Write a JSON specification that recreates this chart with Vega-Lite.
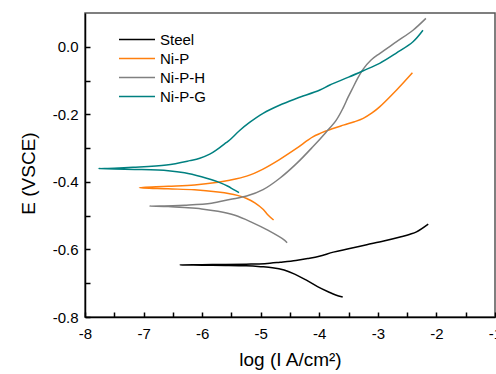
{
  "$schema": "https://vega.github.io/schema/vega-lite/v6.json",
  "width": 410,
  "height": 304,
  "autosize": {"type": "none"},
  "padding": {"left": 85, "top": 13, "right": 1, "bottom": 57},
  "background": "white",
  "config": {
    "view": {"stroke": "#555555", "strokeWidth": 1.5},
    "font": "Liberation Sans"
  },
  "data": {
    "values": [
      {"sample": "Steel", "logI": -3.60, "E": -0.741},
      {"sample": "Steel", "logI": -3.72, "E": -0.735},
      {"sample": "Steel", "logI": -3.84, "E": -0.726},
      {"sample": "Steel", "logI": -4.03, "E": -0.710},
      {"sample": "Steel", "logI": -4.22, "E": -0.691},
      {"sample": "Steel", "logI": -4.42, "E": -0.673},
      {"sample": "Steel", "logI": -4.60, "E": -0.661},
      {"sample": "Steel", "logI": -4.80, "E": -0.654},
      {"sample": "Steel", "logI": -5.00, "E": -0.651},
      {"sample": "Steel", "logI": -5.25, "E": -0.6485},
      {"sample": "Steel", "logI": -5.60, "E": -0.6472},
      {"sample": "Steel", "logI": -6.00, "E": -0.6465},
      {"sample": "Steel", "logI": -6.38, "E": -0.6458},
      {"sample": "Steel", "logI": -6.00, "E": -0.6452},
      {"sample": "Steel", "logI": -5.60, "E": -0.6445},
      {"sample": "Steel", "logI": -5.25, "E": -0.6435},
      {"sample": "Steel", "logI": -4.93, "E": -0.642},
      {"sample": "Steel", "logI": -4.67, "E": -0.638},
      {"sample": "Steel", "logI": -4.40, "E": -0.633},
      {"sample": "Steel", "logI": -4.20, "E": -0.627},
      {"sample": "Steel", "logI": -4.00, "E": -0.620},
      {"sample": "Steel", "logI": -3.76, "E": -0.608},
      {"sample": "Steel", "logI": -3.50, "E": -0.598},
      {"sample": "Steel", "logI": -3.19, "E": -0.586},
      {"sample": "Steel", "logI": -2.90, "E": -0.575},
      {"sample": "Steel", "logI": -2.62, "E": -0.563},
      {"sample": "Steel", "logI": -2.45, "E": -0.555},
      {"sample": "Steel", "logI": -2.34, "E": -0.548},
      {"sample": "Steel", "logI": -2.14, "E": -0.525},

      {"sample": "Ni-P", "logI": -4.78, "E": -0.513},
      {"sample": "Ni-P", "logI": -4.88, "E": -0.497},
      {"sample": "Ni-P", "logI": -4.96, "E": -0.481},
      {"sample": "Ni-P", "logI": -5.10, "E": -0.462},
      {"sample": "Ni-P", "logI": -5.24, "E": -0.449},
      {"sample": "Ni-P", "logI": -5.40, "E": -0.440},
      {"sample": "Ni-P", "logI": -5.53, "E": -0.435},
      {"sample": "Ni-P", "logI": -5.73, "E": -0.430},
      {"sample": "Ni-P", "logI": -6.13, "E": -0.4235},
      {"sample": "Ni-P", "logI": -6.58, "E": -0.4205},
      {"sample": "Ni-P", "logI": -7.07, "E": -0.417},
      {"sample": "Ni-P", "logI": -6.58, "E": -0.413},
      {"sample": "Ni-P", "logI": -6.13, "E": -0.409},
      {"sample": "Ni-P", "logI": -5.73, "E": -0.401},
      {"sample": "Ni-P", "logI": -5.53, "E": -0.395},
      {"sample": "Ni-P", "logI": -5.24, "E": -0.383},
      {"sample": "Ni-P", "logI": -4.96, "E": -0.362},
      {"sample": "Ni-P", "logI": -4.68, "E": -0.334},
      {"sample": "Ni-P", "logI": -4.39, "E": -0.301},
      {"sample": "Ni-P", "logI": -4.11, "E": -0.267},
      {"sample": "Ni-P", "logI": -3.88, "E": -0.249},
      {"sample": "Ni-P", "logI": -3.59, "E": -0.232},
      {"sample": "Ni-P", "logI": -3.40, "E": -0.222},
      {"sample": "Ni-P", "logI": -3.25, "E": -0.212},
      {"sample": "Ni-P", "logI": -3.10, "E": -0.196},
      {"sample": "Ni-P", "logI": -2.97, "E": -0.178},
      {"sample": "Ni-P", "logI": -2.68, "E": -0.128},
      {"sample": "Ni-P", "logI": -2.41, "E": -0.077},

      {"sample": "Ni-P-H", "logI": -4.55, "E": -0.580},
      {"sample": "Ni-P-H", "logI": -4.59, "E": -0.573},
      {"sample": "Ni-P-H", "logI": -4.88, "E": -0.543},
      {"sample": "Ni-P-H", "logI": -5.16, "E": -0.519},
      {"sample": "Ni-P-H", "logI": -5.44, "E": -0.499},
      {"sample": "Ni-P-H", "logI": -5.73, "E": -0.487},
      {"sample": "Ni-P-H", "logI": -6.01, "E": -0.480},
      {"sample": "Ni-P-H", "logI": -6.30, "E": -0.476},
      {"sample": "Ni-P-H", "logI": -6.58, "E": -0.473},
      {"sample": "Ni-P-H", "logI": -6.90, "E": -0.4715},
      {"sample": "Ni-P-H", "logI": -6.50, "E": -0.4705},
      {"sample": "Ni-P-H", "logI": -6.30, "E": -0.469},
      {"sample": "Ni-P-H", "logI": -5.84, "E": -0.463},
      {"sample": "Ni-P-H", "logI": -5.53, "E": -0.452},
      {"sample": "Ni-P-H", "logI": -5.24, "E": -0.442},
      {"sample": "Ni-P-H", "logI": -4.96, "E": -0.423},
      {"sample": "Ni-P-H", "logI": -4.68, "E": -0.390},
      {"sample": "Ni-P-H", "logI": -4.39, "E": -0.346},
      {"sample": "Ni-P-H", "logI": -4.11, "E": -0.296},
      {"sample": "Ni-P-H", "logI": -3.88, "E": -0.252},
      {"sample": "Ni-P-H", "logI": -3.71, "E": -0.217},
      {"sample": "Ni-P-H", "logI": -3.59, "E": -0.180},
      {"sample": "Ni-P-H", "logI": -3.51, "E": -0.150},
      {"sample": "Ni-P-H", "logI": -3.42, "E": -0.119},
      {"sample": "Ni-P-H", "logI": -3.35, "E": -0.095},
      {"sample": "Ni-P-H", "logI": -3.25, "E": -0.066},
      {"sample": "Ni-P-H", "logI": -3.12, "E": -0.040},
      {"sample": "Ni-P-H", "logI": -2.97, "E": -0.020},
      {"sample": "Ni-P-H", "logI": -2.68, "E": 0.015},
      {"sample": "Ni-P-H", "logI": -2.40, "E": 0.049},
      {"sample": "Ni-P-H", "logI": -2.18, "E": 0.084},

      {"sample": "Ni-P-G", "logI": -5.37, "E": -0.432},
      {"sample": "Ni-P-G", "logI": -5.47, "E": -0.422},
      {"sample": "Ni-P-G", "logI": -5.56, "E": -0.413},
      {"sample": "Ni-P-G", "logI": -5.73, "E": -0.400},
      {"sample": "Ni-P-G", "logI": -6.01, "E": -0.385},
      {"sample": "Ni-P-G", "logI": -6.30, "E": -0.373},
      {"sample": "Ni-P-G", "logI": -6.58, "E": -0.367},
      {"sample": "Ni-P-G", "logI": -7.15, "E": -0.363},
      {"sample": "Ni-P-G", "logI": -7.50, "E": -0.3615},
      {"sample": "Ni-P-G", "logI": -7.77, "E": -0.3605},
      {"sample": "Ni-P-G", "logI": -7.50, "E": -0.3595},
      {"sample": "Ni-P-G", "logI": -7.18, "E": -0.357},
      {"sample": "Ni-P-G", "logI": -6.61, "E": -0.350},
      {"sample": "Ni-P-G", "logI": -6.21, "E": -0.337},
      {"sample": "Ni-P-G", "logI": -6.04, "E": -0.330},
      {"sample": "Ni-P-G", "logI": -5.87, "E": -0.318},
      {"sample": "Ni-P-G", "logI": -5.76, "E": -0.306},
      {"sample": "Ni-P-G", "logI": -5.59, "E": -0.284},
      {"sample": "Ni-P-G", "logI": -5.53, "E": -0.276},
      {"sample": "Ni-P-G", "logI": -5.36, "E": -0.248},
      {"sample": "Ni-P-G", "logI": -5.19, "E": -0.224},
      {"sample": "Ni-P-G", "logI": -4.96, "E": -0.197},
      {"sample": "Ni-P-G", "logI": -4.68, "E": -0.173},
      {"sample": "Ni-P-G", "logI": -4.39, "E": -0.153},
      {"sample": "Ni-P-G", "logI": -3.99, "E": -0.128},
      {"sample": "Ni-P-G", "logI": -3.82, "E": -0.113},
      {"sample": "Ni-P-G", "logI": -3.50, "E": -0.090},
      {"sample": "Ni-P-G", "logI": -3.25, "E": -0.071},
      {"sample": "Ni-P-G", "logI": -2.97, "E": -0.049},
      {"sample": "Ni-P-G", "logI": -2.68, "E": -0.018},
      {"sample": "Ni-P-G", "logI": -2.40, "E": 0.015},
      {"sample": "Ni-P-G", "logI": -2.23, "E": 0.049}
    ]
  },
  "mark": {"type": "line", "strokeWidth": 1.5, "clip": true, "interpolate": "catmull-rom"},
  "encoding": {
    "x": {
      "field": "logI",
      "type": "quantitative",
      "scale": {"domain": [-8, -1], "nice": false, "zero": false},
      "axis": {
        "title": "log (I A/cm²)",
        "values": [-8, -7.5, -7, -6.5, -6, -5.5, -5, -4.5, -4, -3.5, -3, -2.5, -2, -1.5, -1],
        "labelExpr": "datum.value % 1 != 0 ? '' : replace(format(datum.value, 'd'), '\u2212', '-')",
        "tickSize": -5,
        "tickColor": "black",
        "tickWidth": 1.5,
        "domainColor": "black",
        "domainWidth": 1.5,
        "grid": false,
        "labelFlush": false,
        "labelOverlap": false,
        "labelFontSize": 15,
        "labelColor": "black",
        "labelPadding": 14,
        "titleFontSize": 19,
        "titleFontWeight": "normal",
        "titleColor": "black",
        "titleY": 33
      }
    },
    "y": {
      "field": "E",
      "type": "quantitative",
      "scale": {"domain": [-0.8, 0.1], "nice": false, "zero": false},
      "axis": {
        "title": "E (VSCE)",
        "values": [-0.8, -0.7, -0.6, -0.5, -0.4, -0.3, -0.2, -0.1, 0.0],
        "labelExpr": "round(datum.value * 10) % 2 != 0 ? '' : replace(format(datum.value, '.1f'), '\u2212', '-')",
        "tickSize": -5,
        "tickColor": "black",
        "tickWidth": 1.5,
        "domainColor": "black",
        "domainWidth": 1.5,
        "grid": false,
        "labelOverlap": false,
        "labelFontSize": 15,
        "labelColor": "black",
        "labelPadding": 12,
        "titleFontSize": 19,
        "titleFontWeight": "normal",
        "titleColor": "black",
        "titleX": -47,
        "titleY": 160
      }
    },
    "color": {
      "field": "sample",
      "type": "nominal",
      "scale": {
        "domain": ["Steel", "Ni-P", "Ni-P-H", "Ni-P-G"],
        "range": ["#000000", "#FF7F0E", "#808080", "#008080"]
      },
      "legend": {
        "title": null,
        "orient": "none",
        "legendX": 42,
        "legendY": 16.5,
        "padding": 0,
        "symbolType": "M-2,0L2,0",
        "symbolSize": 324,
        "symbolStrokeWidth": 1.5,
        "labelFontSize": 15,
        "labelColor": "black",
        "labelOffset": 13,
        "rowPadding": 1
      }
    },
    "order": {"field": "E", "type": "quantitative"}
  }
}
